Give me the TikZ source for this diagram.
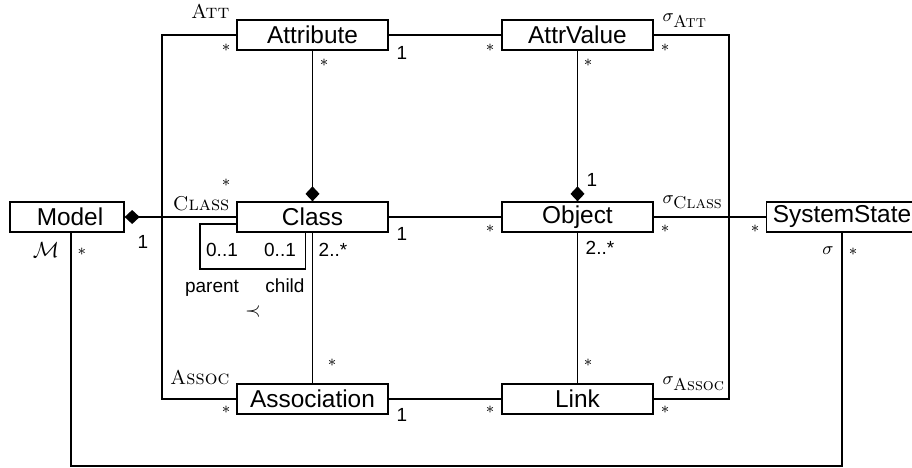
\documentclass[tikz,border=0pt]{standalone}
\usepackage{fontspec}
\setsansfont{Liberation Sans}
\usetikzlibrary{arrows.meta}
\begin{document}
\begin{tikzpicture}[x=0.5pt,y=-0.5pt, line width=0.65pt,
  cls/.style={draw, minimum width=75.5pt, minimum height=15pt, inner sep=0pt,
    font=\sffamily\fontsize{12.2}{14}\selectfont},
  mult/.style={inner sep=0pt, font=\sffamily\fontsize{9.5}{11}\selectfont},
  st/.style={inner sep=0pt, font=\fontsize{8}{9}\selectfont},
  scl/.style={inner sep=0pt, anchor=base east, font=\fontsize{10}{12}\selectfont},
  sig/.style={inner sep=0pt, anchor=base west, font=\fontsize{8.6}{10}\selectfont},
  comp/.style={-{Diamond[length=7.5pt,width=7pt]}},
]
\useasboundingbox (0,0) rectangle (912,467);

% classes
\node[cls] (attr) at (312.5,35) {Attribute};
\node[cls] (aval) at (577.5,35) {AttrValue};
\node[cls, minimum width=57pt] (model) at (67,217) {\hspace*{3pt}Model};
\node[cls] (class) at (312.5,217) {Class};
\node[cls] (obj) at (577.5,217) {Object};
\node[cls] (ss) at (842,217) {SystemState};
\node[cls] (assoc) at (312.5,399) {Association};
\node[cls] (link) at (577.5,399) {Link};

% helper coordinates
\coordinate (cl) at (162,217);
\coordinate (cr) at (729,217);
\coordinate (cb) at (450,466);
\coordinate (lp) at (200,269);

% connectors
\draw (attr) -- (aval);
\draw (class) -- (obj);
\draw (obj) -- (ss);
\draw (assoc) -- (link);
\draw (class) -- (assoc);
\draw (obj) -- (link);
\draw[comp] (attr) -- (class);
\draw[comp] (aval) -- (obj);
\draw[comp] (class) -- (model);
\draw (attr.west) -| (cl) |- (assoc.west);
\draw (aval.east) -| (cr) |- (link.east);
\draw ([xshift=2pt]model.south) |- (cb) -| (ss.south);
\draw ([yshift=-3.5pt]class.west) -| (lp) -| ([xshift=-3.4pt]class.south);

% role names
\node[scl] (lAtt) at (230,18) {\textsc{Att}};
\node[scl] (lClass) at (230,210) {\textsc{Class}};
\node[scl] (lAssoc) at (230,384) {\textsc{Assoc}};
\node[sig] (sAtt) at (662,21) {$\sigma_{\hbox{\textsc{Att}}}$};
\node[sig] (sClass) at (662,203) {$\sigma_{\hbox{\textsc{Class}}}$};
\node[sig] (sAssoc) at (662,384) {$\sigma_{\hbox{\textsc{Assoc}}}$};
\node[inner sep=0pt, font=\fontsize{10.5}{12}\selectfont] (lM) at (46,250) {$\mathcal{M}$};
\node[inner sep=0pt, font=\fontsize{9}{10}\selectfont] (lsig) at (828,251) {$\sigma$};
\node[inner sep=0pt, font=\fontsize{10}{11}\selectfont] (lprec) at (253,311) {$\prec$};

% multiplicities
\node[st] (m1) at (226,48) {$*$};
\node[st] (m2) at (324,63) {$*$};
\node[mult] (m3) at (402,53) {1};
\node[st] (m4) at (490,48) {$*$};
\node[st] (m5) at (665,48) {$*$};
\node[st] (m6) at (588,63) {$*$};
\node[mult] (m7) at (592,180) {1};
\node[st] (m8) at (226,183) {$*$};
\node[mult] (m9) at (402,234) {1};
\node[st] (m10) at (490,229) {$*$};
\node[st] (m11) at (665,229) {$*$};
\node[st] (m12) at (755,229) {$*$};
\node[mult] (m13) at (143,242) {1};
\node[st] (m14) at (82,252) {$*$};
\node[mult] (m15) at (222,250) {0..1};
\node[mult] (m16) at (280,250) {0..1};
\node[mult] (m17) at (333,250) {2..*};
\node[mult] (m18) at (600,248) {2..*};
\node[mult, anchor=base] (rp) at (212,292) {parent};
\node[mult, anchor=base] (rc) at (285,292) {child};
\node[st] (m19) at (853,252) {$*$};
\node[st] (m20) at (332,363) {$*$};
\node[st] (m21) at (588,363) {$*$};
\node[st] (m22) at (226,410) {$*$};
\node[mult] (m23) at (402,415) {1};
\node[st] (m24) at (490,410) {$*$};
\node[st] (m25) at (665,410) {$*$};
\end{tikzpicture}
\end{document}
